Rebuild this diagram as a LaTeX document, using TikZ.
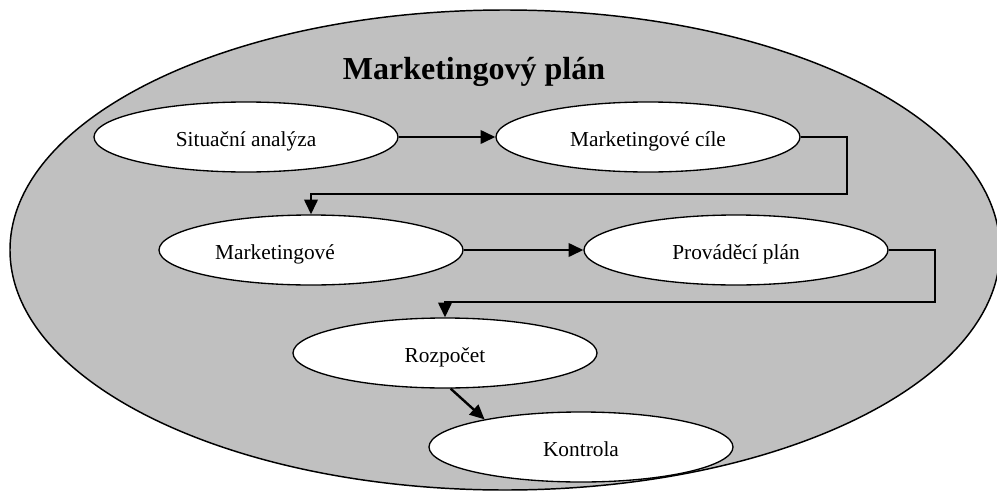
\documentclass[tikz,border=0pt]{standalone}
\usepackage{fontspec}
\setmainfont{Liberation Serif}
\usetikzlibrary{shapes.geometric,arrows.meta}
\tikzset{
  stage/.style={ellipse,draw=black,line width=1pt,fill=white,minimum width=228pt,minimum height=52.5pt,inner sep=0pt,text height=16pt,text depth=2pt,font=\fontsize{16}{19}\selectfont},
  conn/.style={draw=black,line width=1.8pt,-{Triangle[length=11pt,width=10pt]}},
  plan/.style={draw=black,line width=1.1pt,fill=silver},
}
\definecolor{silver}{HTML}{C0C0C0}
\begin{document}
\begin{tikzpicture}[x=0.75pt,y=-0.75pt]
\useasboundingbox (0,0) rectangle (997,493);
\clip (0,0) rectangle (997,493);
\path[plan] (505,250) ellipse [x radius=495,y radius=240];
\node[font=\fontsize{24}{28}\selectfont\bfseries] (title) at (474,72) {Marketingový plán};
\node[stage] (S) at (246,137) {Situační analýza};
\node[stage] (C) at (648,137) {Marketingové cíle};
\node[stage] (M) at (311,250) {Marketingové\hspace*{54pt}};
\node[stage] (P) at (736,250) {Prováděcí plán};
\node[stage] (R) at (445,353) {Rozpočet};
\node[stage] (K) at (581,447) {Kontrola};
\coordinate (c1) at (847,194);
\coordinate (c2) at (935,302);
\draw[conn] (S.east) -- (C.west);
\draw[conn] (C.east) -| (c1) -| (M.north);
\draw[conn] (M.east) -- (P.west);
\draw[conn] (P.east) -| (c2) -| (R.north);
\draw[conn] (R.-81) -- (K.164);
\end{tikzpicture}
\end{document}
